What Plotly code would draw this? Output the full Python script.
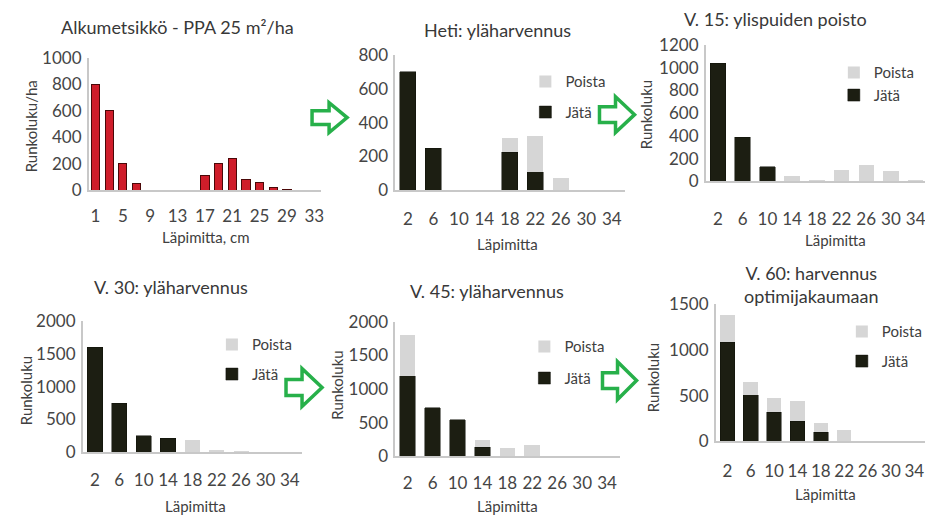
import plotly.graph_objects as go

# ---------------- data ----------------
diam_alku = [1, 3, 5, 7, 9, 11, 13, 15, 17, 19, 21, 23, 25, 27, 29, 31, 33]
runko_alku = [800, 600, 200, 50, 0, 0, 0, 0, 110, 200, 240, 85, 60, 25, 10, 0, 0]
ticks_alku = [1, 5, 9, 13, 17, 21, 25, 29, 33]

diam = [2, 6, 10, 14, 18, 22, 26, 30, 34]

jata_heti = [700, 250, 0, 0, 225, 110, 0, 0, 0]
poista_heti = [0, 0, 0, 0, 85, 210, 70, 0, 0]

jata_v15 = [1040, 390, 130, 0, 0, 0, 0, 0, 0]
poista_v15 = [0, 0, 0, 50, 10, 100, 145, 95, 5]

jata_v30 = [1600, 750, 255, 215, 0, 0, 0, 0, 0]
poista_v30 = [0, 0, 0, 0, 185, 40, 10, 5, 5]

jata_v45 = [1200, 725, 545, 135, 0, 0, 0, 0, 0]
poista_v45 = [600, 0, 0, 115, 120, 170, 5, 5, 5]

jata_v60 = [1080, 510, 320, 220, 100, 0, 0, 0, 0]
poista_v60 = [300, 140, 150, 225, 100, 120, 5, 5, 5]

titles = ["Alkumetsikkö - PPA 25 m²/ha", "Heti: yläharvennus", "V. 15: ylispuiden poisto",
          "V. 30: yläharvennus", "V. 45: yläharvennus", "V. 60: harvennus<br>optimijakaumaan"]
ytitles = ["Runkoluku/ha", None, "Runkoluku", "Runkoluku", "Runkoluku", "Runkoluku"]
xtitles = ["Läpimitta, cm", "Läpimitta", "Läpimitta", "Läpimitta", "Läpimitta", "Läpimitta"]
ymax = [1000, 800, 1200, 2000, 2000, 1500]
ystep = [200, 200, 200, 500, 500, 500]

# ---------------- layout helpers ----------------
W, H = 933, 517
FONT = "Lato, 'Open Sans', sans-serif"
TXT = "#404040"
TICK = "#454545"
AXIS = "#c8c8c8"
DARK = "#1c1e12"
GREY = "#d6d6d6"
RED = "#cf1d2a"
GREEN = "#27b04a"

# screen-pixel -> paper mapping (calibrated to the rendering frame)
OX, OY, EW, EH = 9.4, 19.0, 928.6, 497.9


def fx(px):
    return (px - OX) / EW


def fy(py):
    return 1 - (py - OY) / EH


# plot-area boxes in target pixels: (x0, x1, ytop, ybottom)
boxes = [(90, 322, 58, 191), (396, 625, 55, 191), (706, 928, 45, 182),
         (84, 303, 322, 454), (396, 620, 323, 458), (716, 926, 305, 443)]
xlabel_standoff = [10, 13, 21, 12, 11, 13]
title_pos = [(179, 27), (498, 30), (776, 19), (172, 288), (488, 292), (812, 286)]
ytitle_pos = [(32, 127), None, (646, 115), (27, 392), (338, 387), (653, 379)]
xtitle_pos = [(207, 238), (508, 245), (836, 241), (197, 508), (508, 508), (826, 496)]
legend_pos = [None, (526, 65.5), (834, 56.5), (213, 329.5), (525, 331.5), (842, 316.5)]
legend_gap = [None, 8, 0, 7, 9, 7]

fig = go.Figure()

# panel 1
fig.add_trace(go.Bar(x=diam_alku, y=runko_alku, xaxis="x", yaxis="y", width=1.2,
                     marker=dict(color=RED, line=dict(color="#4a0808", width=1)),
                     showlegend=False, name="Runkoluku"))

series = [(jata_heti, poista_heti), (jata_v15, poista_v15), (jata_v30, poista_v30),
          (jata_v45, poista_v45), (jata_v60, poista_v60)]
for i, (jata, poista) in enumerate(series):
    n = i + 2
    leg = "legend" if i == 0 else f"legend{i + 1}"
    fig.add_trace(go.Bar(x=diam, y=jata, xaxis=f"x{n}", yaxis=f"y{n}", width=2.5,
                         marker=dict(color=DARK, line=dict(color="#0e0f08", width=0.5)),
                         name="Jätä", legend=leg, legendgroup=f"j{n}", legendrank=2))
    fig.add_trace(go.Bar(x=diam, y=poista, xaxis=f"x{n}", yaxis=f"y{n}", width=2.5,
                         marker=dict(color=GREY, line=dict(width=0)),
                         name="Poista", legend=leg, legendgroup=f"p{n}", legendrank=1))

layout = dict(width=W, height=H, margin=dict(l=0, r=0, t=0, b=0),
              paper_bgcolor="white", plot_bgcolor="white", barmode="stack",
              font=dict(family=FONT, color=TXT), showlegend=True)

for i, (x0, x1, yt, yb) in enumerate(boxes):
    n = i + 1
    sx = "" if n == 1 else str(n)
    if n == 1:
        xr, tv = [0, 34], ticks_alku
    else:
        xr, tv = [0, 36], diam
    layout[f"xaxis{sx}"] = dict(domain=[fx(x0), min(fx(x1), 1)], range=xr, tickvals=tv,
                                ticktext=[str(v) for v in tv], anchor=f"y{sx}",
                                showline=True, linecolor=AXIS, linewidth=1.5,
                                ticks="", showgrid=False, zeroline=False, fixedrange=True,
                                tickfont=dict(size=17, color=TICK),
                                ticklabelstandoff=xlabel_standoff[i])
    layout[f"yaxis{sx}"] = dict(domain=[fy(yb), fy(yt)], range=[0, ymax[i]], dtick=ystep[i],
                                tick0=0, anchor=f"x{sx}", showline=True, linecolor=AXIS,
                                linewidth=1.5, ticks="", showgrid=False, zeroline=False,
                                tickfont=dict(size=17, color=TICK), ticklabelstandoff=2)

for i in range(1, 6):
    lx, ly = legend_pos[i]
    key = "legend" if i == 1 else f"legend{i}"
    layout[key] = dict(x=fx(lx), y=fy(ly), xanchor="left", yanchor="top",
                       bgcolor="rgba(0,0,0,0)", font=dict(size=15, color=TXT),
                       traceorder="grouped", tracegroupgap=legend_gap[i])

annotations = []
for i in range(6):
    tx, ty = title_pos[i]
    annotations.append(dict(x=fx(tx), y=fy(ty), xref="paper", yref="paper", text=titles[i],
                            showarrow=False, font=dict(size=18, color="#383838"),
                            xanchor="center", yanchor="middle"))
    if ytitles[i]:
        ax_, ay_ = ytitle_pos[i]
        annotations.append(dict(x=fx(ax_), y=fy(ay_), xref="paper", yref="paper",
                                text=ytitles[i], textangle=-90, showarrow=False,
                                font=dict(size=15, color=TXT),
                                xanchor="center", yanchor="middle"))
    bx, by = xtitle_pos[i]
    annotations.append(dict(x=fx(bx), y=fy(by), xref="paper", yref="paper", text=xtitles[i],
                            showarrow=False, font=dict(size=15, color=TXT),
                            xanchor="center", yanchor="middle"))
layout["annotations"] = annotations

# green outlined arrows between panels: (x_left, x_head, x_tip, y_center, body_half, head_half)
arrows = [(313, 330, 348, 118, 7, 15), (600, 616, 635, 115, 8, 18),
          (287, 303, 323, 389, 8, 19), (603, 618, 637, 382, 8, 19)]
shapes = []
for (xl, xh, xt, yc, bh, hh) in arrows:
    pts = [(xl, yc - bh), (xh, yc - bh), (xh, yc - hh), (xt, yc), (xh, yc + hh),
           (xh, yc + bh), (xl, yc + bh)]
    path = "M " + " L ".join(f"{fx(a):.5f},{fy(b):.5f}" for a, b in pts) + " Z"
    shapes.append(dict(type="path", path=path, xref="paper", yref="paper",
                       line=dict(color=GREEN, width=3.5), fillcolor="white"))
layout["shapes"] = shapes

fig.update_layout(**layout)
fig.write_html("out.html")
